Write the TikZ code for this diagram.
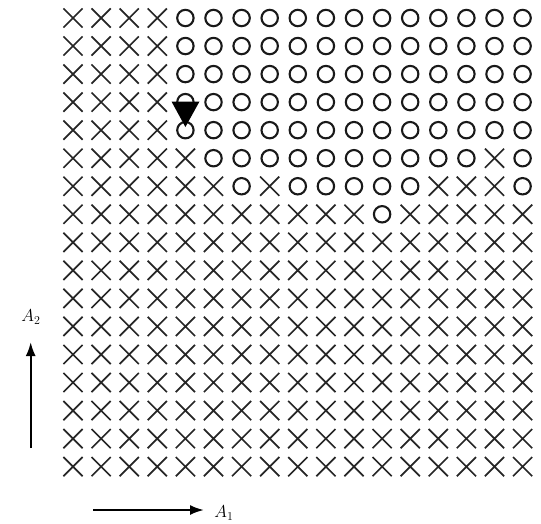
\documentclass[tikz,border=0pt]{standalone}
\usetikzlibrary{shapes.misc,arrows.meta}
\begin{document}
\begin{tikzpicture}[x=1pt,y=-1pt,
  markx/.style={cross out,draw=black!85,line width=1.7pt,minimum size=17.5pt,inner sep=0pt},
  marko/.style={circle,draw=black!90,line width=2.1pt,minimum size=16.4pt,inner sep=0pt},
  axisarrow/.style={line width=2.2pt,-{Latex[length=14pt,width=10pt]}},
  axislabel/.style={inner sep=0pt,font=\fontsize{18}{20}\selectfont}]
\useasboundingbox (0,0) rectangle (541,523);
\foreach \r [count=\j] in {
  {x,x,x,x,o,o,o,o,o,o,o,o,o,o,o,o,o},
  {x,x,x,x,o,o,o,o,o,o,o,o,o,o,o,o,o},
  {x,x,x,x,o,o,o,o,o,o,o,o,o,o,o,o,o},
  {x,x,x,x,o,o,o,o,o,o,o,o,o,o,o,o,o},
  {x,x,x,x,o,o,o,o,o,o,o,o,o,o,o,o,o},
  {x,x,x,x,x,o,o,o,o,o,o,o,o,o,o,x,o},
  {x,x,x,x,x,x,o,x,o,o,o,o,o,x,x,x,o},
  {x,x,x,x,x,x,x,x,x,x,x,o,x,x,x,x,x},
  {x,x,x,x,x,x,x,x,x,x,x,x,x,x,x,x,x},
  {x,x,x,x,x,x,x,x,x,x,x,x,x,x,x,x,x},
  {x,x,x,x,x,x,x,x,x,x,x,x,x,x,x,x,x},
  {x,x,x,x,x,x,x,x,x,x,x,x,x,x,x,x,x},
  {x,x,x,x,x,x,x,x,x,x,x,x,x,x,x,x,x},
  {x,x,x,x,x,x,x,x,x,x,x,x,x,x,x,x,x},
  {x,x,x,x,x,x,x,x,x,x,x,x,x,x,x,x,x},
  {x,x,x,x,x,x,x,x,x,x,x,x,x,x,x,x,x},
  {x,x,x,x,x,x,x,x,x,x,x,x,x,x,x,x,x}}
  \foreach \c [count=\i] in \r
    \node[mark\c] (m-\j-\i) at ({73+28.1*(\i-1)},{18+28.04*(\j-1)}) {};
% pointer triangle
\fill[black] (171.5,101.5) -- (199.5,101.5) -- (185.4,127) -- cycle;
% axes
\coordinate (v0) at (30.7,448);
\coordinate (v1) at (30.7,342);
\coordinate (h0) at (93,510);
\coordinate (h1) at (204,510);
\draw[axisarrow] (v0) -- (v1);
\draw[axisarrow] (h0) -- (h1);
\node[axislabel] (a2) at (31,317) {$A_2$};
\node[axislabel] (a1) at (224,513) {$A_1$};
\end{tikzpicture}
\end{document}
